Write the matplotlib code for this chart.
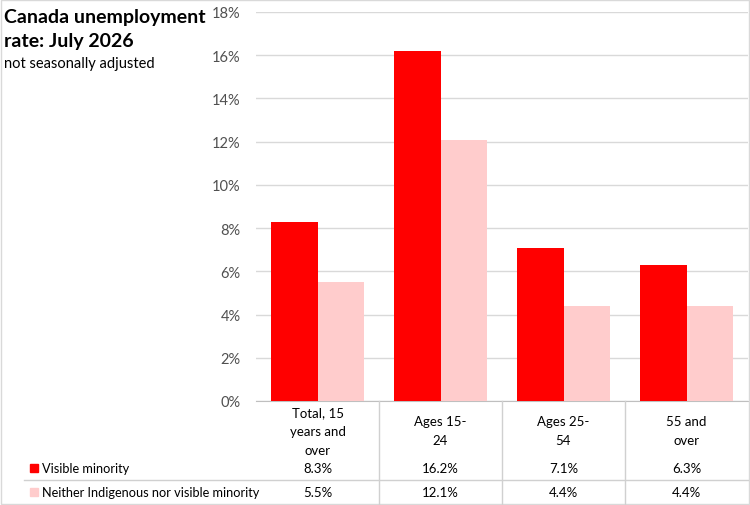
import matplotlib.pyplot as plt
import numpy as np
from matplotlib.lines import Line2D
from matplotlib.patches import Rectangle

categories = ["Total, 15\nyears and\nover", "Ages 15-\n24", "Ages 25-\n54", "55 and\nover"]
series_names = ["Visible minority", "Neither Indigenous nor visible minority"]
visible_minority = [8.3, 16.2, 7.1, 6.3]
neither = [5.5, 12.1, 4.4, 4.4]
colors = ["#FF0000", "#FFCCCC"]
yticks = [0, 2, 4, 6, 8, 10, 12, 14, 16, 18]

plt.rcParams["font.family"] = ["Lato", "DejaVu Sans"]

W, H = 750, 506
fig = plt.figure(figsize=(W / 100, H / 100), dpi=100)

# pixel helpers (top-left origin)
def fx(px):
    return px / W

def fy(py):
    return 1 - py / H

ax_left, ax_right, ax_top, ax_bottom = 256, 748, 13, 402
ax = fig.add_axes([fx(ax_left), fy(ax_bottom), fx(ax_right - ax_left), fy(ax_top) - fy(ax_bottom)])

x = np.arange(len(categories))
bw = 0.375
ax.bar(x - bw / 2, visible_minority, bw, color=colors[0], zorder=3)
ax.bar(x + bw / 2, neither, bw, color=colors[1], zorder=3)

ax.set_xlim(-0.5, len(categories) - 0.5)
ax.set_ylim(0, 18)
ax.set_yticks(yticks)
ax.set_yticklabels([f"{t}%" for t in yticks], fontsize=10.5, color="#505050")
ax.set_xticks([])
ax.tick_params(axis="y", length=0, pad=11)
ax.grid(axis="y", color="#D9D9D9", linewidth=1, zorder=0)
for s in ["top", "right", "left"]:
    ax.spines[s].set_visible(False)
ax.spines["bottom"].set_color("#BFBFBF")

# data table below the axis
lc = "#D0D0D0"
cat_w = (ax_right - ax_left) / len(categories)
for i in range(1, len(categories)):
    xp = ax_left + i * cat_w
    fig.add_artist(Line2D([fx(xp), fx(xp)], [fy(ax_bottom), fy(505)], color=lc, lw=1))
fig.add_artist(Line2D([fx(24), fx(ax_right)], [fy(481), fy(481)], color=lc, lw=1))

for i, c in enumerate(categories):
    cx = ax_left + (i + 0.5) * cat_w
    fig.text(fx(cx), fy(432), c, ha="center", va="center", fontsize=9.5, color="#000000", linespacing=1.7)

rows = [visible_minority, neither]
row_y = [469, 493]
for r, vals in enumerate(rows):
    ry = row_y[r]
    fig.add_artist(Rectangle((fx(30), fy(ry + 4)), fx(8), fy(ry - 4) - fy(ry + 4), color=colors[r]))
    fig.text(fx(42), fy(ry), series_names[r], ha="left", va="center", fontsize=9.2)
    for i, v in enumerate(vals):
        cx = ax_left + (i + 0.5) * cat_w
        fig.text(fx(cx), fy(ry), f"{v}%", ha="center", va="center", fontsize=9.5)

# title
fig.text(fx(4), fy(23), "Canada unemployment", ha="left", va="baseline",
         fontsize=14, fontweight="bold")
fig.text(fx(4), fy(47.5), "rate: July 2026", ha="left", va="baseline",
         fontsize=14, fontweight="bold")
fig.text(fx(4), fy(68), "not seasonally adjusted", ha="left", va="baseline", fontsize=10.5)

# figure border
fig.add_artist(Rectangle((fx(1), fy(505)), fx(747.5), fy(1) - fy(505), fill=False, edgecolor="#D9D9D9", lw=1))

fig.savefig("out.png", dpi=100)
